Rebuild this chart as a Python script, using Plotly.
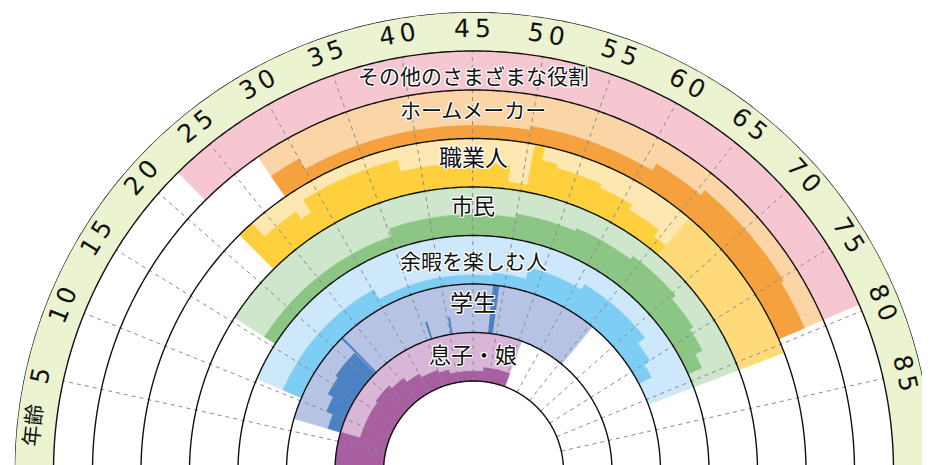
import math
import plotly.graph_objects as go

W, H = 930, 465
CX, CY, R_OUT = 465.5, 463, 459          # centre of the rainbow and its outer radius (px)
AGE_AT_LEFT = -1.4                        # age sitting on the left baseline
DEG_PER_YEAR = 1.936

# ring boundaries, inside out: 息子・娘, 学生, 余暇, 市民, 職業人, ホームメーカー, その他, 年齢
RINGS = [90, 138.5, 187, 235.5, 284, 332.5, 381, 420, 459]

age_ticks = [5, 10, 15, 20, 25, 30, 35, 40, 45, 50, 55, 60, 65, 70, 75, 80, 85]

role_names = ["息子・娘", "学生", "余暇を楽しむ人", "市民", "職業人", "ホームメーカー", "その他のさまざまな役割"]

# each role: span of the pale band (ages) + stepped darker band (edges in ages, thickness in px)
child_span = [AGE_AT_LEFT, 55.6]
child_edges = [AGE_AT_LEFT, 7, 17, 22, 26, 30, 35, 38, 48, 55.6]
child_dark = [48.5, 28, 30, 26, 21, 17, 14, 10, 14]

student_span = [7, 65.5]
student_edges = [7, 10, 13, 16.5, 21.7]
student_dark = [13, 20, 26, 29]
student_spike_age = [22, 36, 40.4, 48.7]
student_spike_width = [0.35, 0.4, 0.4, 1.0]
student_spike_len = [48.5, 18, 17, 48.5]

leisure_span = [10.5, 80.8]
leisure_edges = [10.5, 30.2, 48, 53, 61, 72, 75, 77.2]
leisure_dark = [20, 9, 12, 24, 30, 21, 14]

citizen_span = [15.5, 80.8]
citizen_edges = [15.5, 35.2, 50, 57, 64, 70.4, 74.4, 77.2, 79]
citizen_dark = [13, 21, 25, 28, 32, 27, 23, 15]

worker_span = [22, 66]
worker_late_span = [66, 80.8]
worker_edges = [22, 23.5, 27.3, 28.5, 38, 48.6, 50.6, 51.5, 53, 57.5, 61, 64.5, 66]
worker_dark = [48.5, 30, 21, 36, 24, 7, 48.5, 34, 30, 26, 20, 12]

home_span = [27.3, 79.5]
home_edges = [27.3, 30, 50, 61, 65.5, 75.3, 79.5]
home_dark = [25, 13, 17, 25, 31, 28]

other_span = [22, 79.5]

COL = {
    "age": "#ecf3d0", "other": "#f7c7d1",
    "home_l": "#fcd5a6", "home_d": "#f5a13d",
    "work_l": "#fee8b1", "work_d": "#fed03d", "work_m": "#feda7a",
    "civ_l": "#cee6cb", "civ_d": "#8bc684",
    "lei_l": "#cde8fa", "lei_d": "#7dcdf4",
    "stu_l": "#b6c3e4", "stu_d": "#4a82c4",
    "chi_l": "#d9b5d8", "chi_d": "#a85fa2",
}


def to_theta(age):
    return (age - AGE_AT_LEFT) * DEG_PER_YEAR


def bars(edges, lengths, base, color):
    th, wd = [], []
    for a0, a1 in zip(edges[:-1], edges[1:]):
        t0, t1 = to_theta(a0), to_theta(a1)
        th.append((t0 + t1) / 2)
        wd.append(t1 - t0)
    return go.Barpolar(theta=th, width=wd, r=lengths, base=[base] * len(th),
                       marker=dict(color=color, line=dict(width=0.6, color=color)),
                       hoverinfo="skip")


def full(span, ring, color):
    r0, r1 = RINGS[ring], RINGS[ring + 1]
    return bars(span, [r1 - r0], r0, color)


fig = go.Figure()

age_top = AGE_AT_LEFT + 180 / DEG_PER_YEAR
fig.add_trace(full([AGE_AT_LEFT, age_top], 7, COL["age"]))
fig.add_trace(full(other_span, 6, COL["other"]))

fig.add_trace(full(home_span, 5, COL["home_l"]))
fig.add_trace(bars(home_edges, home_dark, RINGS[5], COL["home_d"]))

fig.add_trace(full(worker_span, 4, COL["work_l"]))
fig.add_trace(bars(worker_edges, worker_dark, RINGS[4], COL["work_d"]))
fig.add_trace(full(worker_late_span, 4, COL["work_m"]))

fig.add_trace(full(citizen_span, 3, COL["civ_l"]))
fig.add_trace(bars(citizen_edges, citizen_dark, RINGS[3], COL["civ_d"]))

fig.add_trace(full(leisure_span, 2, COL["lei_l"]))
fig.add_trace(bars(leisure_edges, leisure_dark, RINGS[2], COL["lei_d"]))

fig.add_trace(full(student_span, 1, COL["stu_l"]))
fig.add_trace(bars(student_edges, student_dark, RINGS[1], COL["stu_d"]))
fig.add_trace(go.Barpolar(
    theta=[to_theta(a) for a in student_spike_age],
    width=[w * DEG_PER_YEAR for w in student_spike_width],
    r=student_spike_len, base=[RINGS[1]] * len(student_spike_age),
    marker=dict(color=COL["stu_d"], line=dict(width=0)), hoverinfo="skip"))

fig.add_trace(full(child_span, 0, COL["chi_l"]))
fig.add_trace(bars(child_edges, child_dark, RINGS[0], COL["chi_d"]))

# dashed age spokes
sp_r, sp_t = [], []
for a in age_ticks:
    sp_r += [RINGS[0], RINGS[7], None]
    sp_t += [to_theta(a), to_theta(a), None]
fig.add_trace(go.Scatterpolar(r=sp_r, theta=sp_t, mode="lines", hoverinfo="skip",
                              line=dict(color="#8a8a8a", width=1, dash="4px,4px")))

# ring outlines + baseline
arc = [i * 0.5 for i in range(361)]
for rr in RINGS:
    fig.add_trace(go.Scatterpolar(r=[rr] * len(arc), theta=arc, mode="lines",
                                  hoverinfo="skip", line=dict(color="#111", width=1.4)))
fig.add_trace(go.Scatterpolar(r=[RINGS[0], R_OUT, None, RINGS[0], R_OUT],
                              theta=[0, 0, None, 180, 180], mode="lines",
                              hoverinfo="skip", line=dict(color="#111", width=1.6)))


def px_at(age_theta, r):
    a = math.radians(180 - age_theta)
    return (CX + r * math.cos(a)) / W, 1 - (CY - r * math.sin(a)) / H


ann = []
r_lab = 443
for a in age_ticks:
    t = to_theta(a)
    x, y = px_at(t, r_lab)
    ann.append(dict(x=x, y=y, xref="paper", yref="paper", text="\u2009".join(str(a)),
                    showarrow=False, xanchor="center", yanchor="middle",
                    textangle=t - 90, font=dict(family="DejaVu Sans", size=25, color="#111")))
x, y = px_at(5.9, 444)
ann.append(dict(x=x, y=y, xref="paper", yref="paper", text="年齢", showarrow=False,
                xanchor="center", yanchor="middle",
                textangle=5.9 - 90, font=dict(family="Noto Sans CJK JP", size=21, color="#111")))

halo = ", ".join(f"{dx}px {dy}px 0 #fff" for dx in (-1, 0, 1) for dy in (-1, 0, 1) if dx or dy)
label_y = [345, 293, 252, 196, 148, 101, 67]
label_size = [22, 23, 21, 22, 23, 21, 21]
for name, yy, fs in zip(role_names, label_y, label_size):
    ann.append(dict(x=CX / W, y=1 - yy / H, xref="paper", yref="paper", text=name,
                    showarrow=False, xanchor="center", yanchor="middle",
                    font=dict(family="Noto Sans CJK JP", size=fs, color="#111", shadow=halo)))

fig.update_layout(
    width=W, height=H, margin=dict(l=0, r=0, t=0, b=0),
    paper_bgcolor="white", showlegend=False,
    annotations=ann,
    polar=dict(
        domain=dict(x=[(CX - R_OUT) / W, (CX + R_OUT) / W],
                    y=[(H - CY) / H, (H - CY + R_OUT) / H]),
        sector=[0, 180], hole=0, bgcolor="white", barmode="overlay",
        radialaxis=dict(range=[0, R_OUT], visible=False),
        angularaxis=dict(rotation=180, direction="clockwise", visible=False),
    ),
)

fig.write_html("out.html")
